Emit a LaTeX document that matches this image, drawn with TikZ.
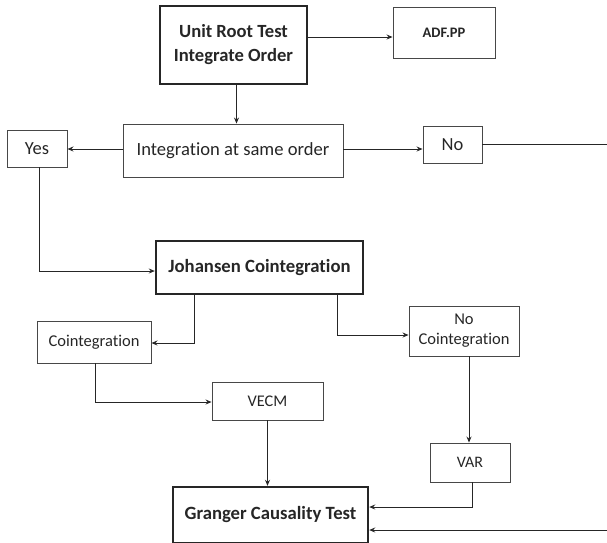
\documentclass[tikz,border=0pt]{standalone}
\usepackage{fontspec}
\setmainfont{Carlito}[Ligatures=NoCommon]
\usetikzlibrary{arrows.meta}
\definecolor{ink}{HTML}{262626}
\tikzset{
  box/.style={draw=ink!85, line width=0.9pt, text=ink, align=center, inner sep=2pt},
  thick box/.style={draw=ink, line width=2.4pt, text=ink, align=center, inner sep=2pt, font=\bfseries},
  arr/.style={draw=ink, line width=1pt, -{Stealth[length=6pt,width=5pt]}},
  ln/.style={draw=ink, line width=1pt}
}
\begin{document}
\begin{tikzpicture}[x=1pt,y=-1pt]
\useasboundingbox (0,0) rectangle (607,542);
\node[thick box, minimum width=147pt, minimum height=78pt, font=\bfseries\fontsize{18.6}{24}\selectfont] (unit) at (233.5,45) {Unit Root Test\\Integrate Order};
\node[box, minimum width=102pt, minimum height=51pt, font=\bfseries\fontsize{14.5}{17}\selectfont] (adf) at (444,32.5) {ADF.PP};
\node[box, minimum width=220pt, minimum height=53pt, font=\fontsize{18.6}{22}\selectfont] (integ) at (233,150.5) {Integration at same order};
\node[box, minimum width=60pt, minimum height=37pt, font=\fontsize{18.5}{22}\selectfont] (yes) at (37,148.5) {Yes};
\node[box, minimum width=59pt, minimum height=37pt, font=\fontsize{18.5}{22}\selectfont] (no) at (452.5,144.5) {No};
\node[thick box, minimum width=207pt, minimum height=53pt, font=\bfseries\fontsize{18.7}{22}\selectfont] (joh) at (259.5,267.5) {Johansen Cointegration};
\node[box, minimum width=114pt, minimum height=42pt, font=\fontsize{16.5}{20}\selectfont] (coint) at (94,342) {Cointegration};
\node[box, minimum width=110pt, minimum height=50pt, font=\fontsize{16.5}{20}\selectfont] (nocoint) at (464,331) {No\\Cointegration};
\node[box, minimum width=111pt, minimum height=38pt, font=\fontsize{16.3}{20}\selectfont] (vecm) at (267.5,401) {VECM};
\node[box, minimum width=80pt, minimum height=39pt, font=\fontsize{16}{20}\selectfont] (var) at (470,462.5) {VAR};
\node[thick box, minimum width=195pt, minimum height=56pt, font=\bfseries\fontsize{18.7}{22}\selectfont] (granger) at (270.5,515) {Granger Causality Test};
\coordinate (noout) at (607,144);
\coordinate (grin) at (607,530);
% connectors
\draw[arr] ([yshift=8pt]unit.east) -- ([yshift=8pt]unit.east -| adf.west);
\draw[arr] ([xshift=3pt]unit.south) -- ([xshift=3pt]unit.south |- integ.north);
\draw[arr] ([yshift=1.5pt]integ.west) -- ([yshift=1.5pt]integ.west -| yes.east);
\draw[arr] ([yshift=1.5pt]integ.east) -- ([yshift=1.5pt]integ.east -| no.west);
\draw[ln] (no.east |- noout) -- (noout);
\draw[arr] ([xshift=2pt]yes.south) |- ([yshift=-3.5pt]joh.west);
\draw[arr] ([xshift=-65.5pt]joh.south) |- ([yshift=-1pt]coint.east);
\draw[arr] ([xshift=77.5pt]joh.south) |- ([yshift=-4pt]nocoint.west);
\draw[arr] ([xshift=1pt]coint.south) |- ([yshift=-1pt]vecm.west);
\draw[arr] (vecm.south) -- (vecm.south |- granger.north);
\draw[arr] ([xshift=5pt]nocoint.south) -- ([xshift=5pt]nocoint.south |- var.north);
\draw[arr] ([xshift=2pt]var.south) |- ([yshift=8pt]granger.east);
\draw[arr] (grin) -- (grin -| granger.east);
\end{tikzpicture}
\end{document}
